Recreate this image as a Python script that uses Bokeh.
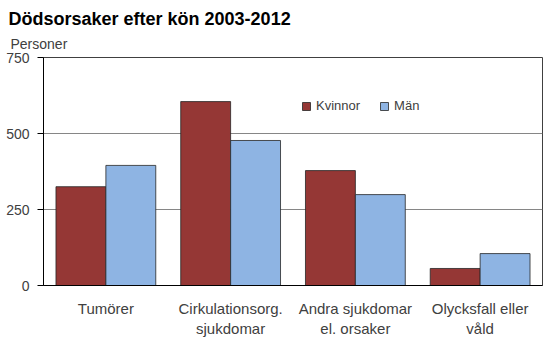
from bokeh.plotting import figure
from bokeh.models import FactorRange, Range1d, ColumnDataSource, Legend, LegendItem, Title, FixedTicker
from bokeh.transform import dodge
from bokeh.embed import file_html
from bokeh.resources import INLINE

categories = ["Tumörer", "Cirkulationsorg.\nsjukdomar", "Andra sjukdomar\nel. orsaker", "Olycksfall eller\nvåld"]
kvinnor = [325, 605, 378, 56]
man = [395, 477, 299, 105]
yticks = [0, 250, 500, 750]

FONT = "Liberation Sans"
src = ColumnDataSource(data=dict(cat=categories, k=kvinnor, m=man))

p = figure(width=552, height=353, x_range=FactorRange(*categories), y_range=Range1d(0, 750),
           output_backend="svg", toolbar_location=None,
           min_border_left=43, min_border_right=10, min_border_top=57, min_border_bottom=68)
p.background_fill_color = "white"
p.border_fill_color = "white"
p.outline_line_color = "#404040"
p.outline_line_width = 1

p.title.text = "Dödsorsaker efter kön 2003-2012"
p.title.text_font = FONT
p.title.text_font_size = "18px"
p.title.text_font_style = "bold"
p.title.text_color = "black"
p.title.offset = -35
p.title.standoff = 0
p.add_layout(Title(text="Personer", text_font=FONT, text_font_size="14px", text_color="#404040",
                   text_font_style="normal", offset=-33, standoff=11), "above")

rk = p.vbar(x=dodge("cat", -0.2, range=p.x_range), top="k", width=0.4, source=src,
            fill_color="#953735", line_color="#262626", line_width=0.8)
rm = p.vbar(x=dodge("cat", 0.2, range=p.x_range), top="m", width=0.4, source=src,
            fill_color="#8EB4E3", line_color="#262626", line_width=0.8)

legend = Legend(items=[LegendItem(label="Kvinnor", renderers=[rk]), LegendItem(label="Män", renderers=[rm])],
                orientation="horizontal", location=(256, 170), background_fill_alpha=0,
                border_line_alpha=0, label_text_font=FONT, label_text_font_size="13px",
                label_text_color="#404040", glyph_width=10, glyph_height=10, spacing=19,
                label_standoff=5, padding=2, margin=0)
p.add_layout(legend, "center")

p.xgrid.grid_line_color = None
p.ygrid.grid_line_color = "#868686"
p.ygrid.ticker = FixedTicker(ticks=yticks)
p.yaxis.ticker = FixedTicker(ticks=yticks)

for ax in [p.xaxis[0], p.yaxis[0]]:
    ax.axis_line_color = "black"
    ax.axis_line_width = 1
    ax.major_label_text_font = FONT
    ax.major_label_text_color = "#404040"
    ax.minor_tick_line_color = None

p.xaxis.major_label_text_font_size = "15px"
p.yaxis.major_label_text_font_size = "14px"
p.xaxis.major_tick_line_color = None
p.xaxis.major_label_standoff = 8
p.yaxis.major_tick_line_color = "black"
p.yaxis.major_tick_out = 6
p.yaxis.major_tick_in = 0
p.yaxis.major_label_standoff = 8
p.x_range.range_padding = 0
p.x_range.factor_padding = 0

open("out.html", "w").write(file_html(p, INLINE))
